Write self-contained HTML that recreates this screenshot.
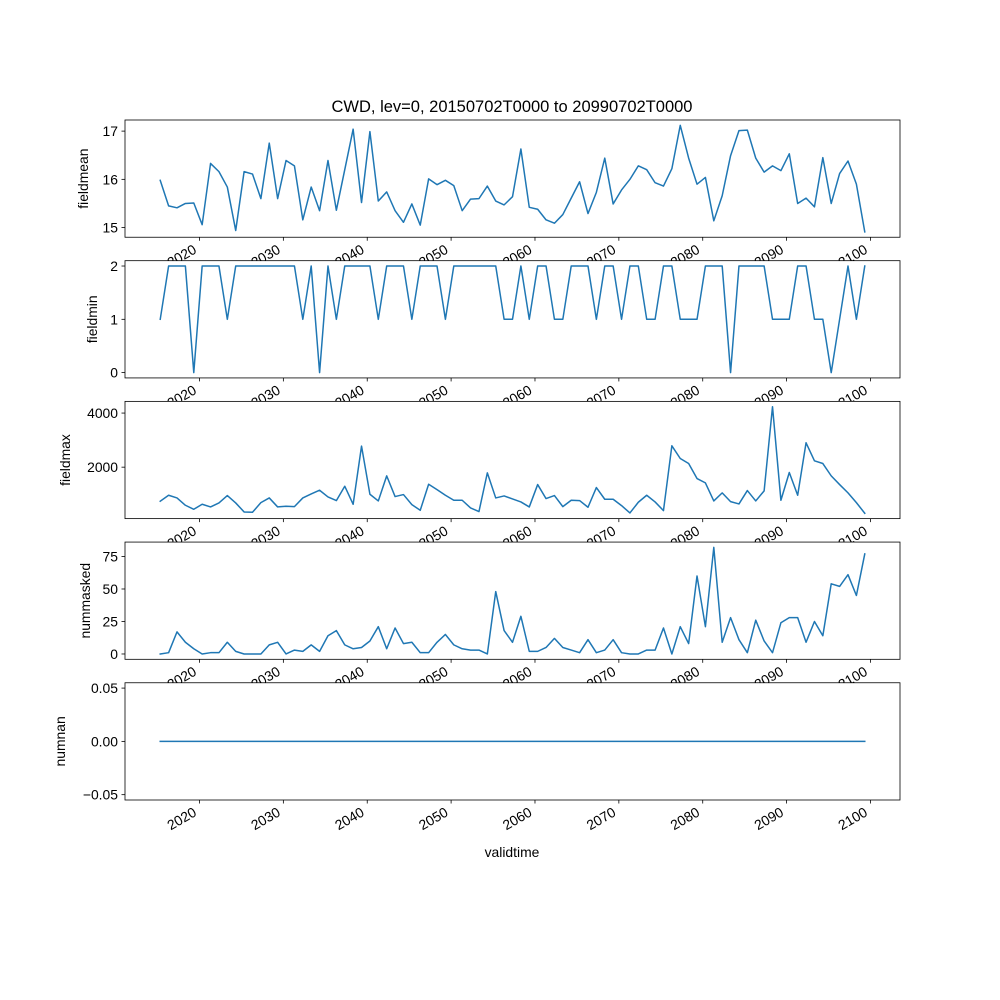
<!DOCTYPE html>
<html><head><meta charset="utf-8"><style>
html,body{margin:0;padding:0;background:#fff}
svg{display:block;font-family:"Liberation Sans","DejaVu Sans",sans-serif}
</style></head><body>
<svg id="fig" width="1000" height="1000" viewBox="0 0 1000 1000" xmlns="http://www.w3.org/2000/svg">
<rect width="1000" height="1000" fill="#fff"/>
<text x="512" y="112" text-anchor="middle" font-size="16.5">CWD, lev=0, 20150702T0000 to 20990702T0000</text>
<text x="512" y="857" text-anchor="middle" font-size="13.9">validtime</text>
</svg>
<script>
const startYear = 2015;
const fieldmean = [15.98,15.45,15.41,15.50,15.51,15.06,16.33,16.16,15.84,14.94,16.16,16.11,15.60,16.75,15.60,16.39,16.28,15.16,15.84,15.35,16.39,15.36,16.2,17.04,15.52,16.99,15.55,15.74,15.35,15.11,15.49,15.05,16.01,15.89,15.98,15.87,15.35,15.59,15.60,15.86,15.55,15.47,15.64,16.63,15.42,15.38,15.16,15.09,15.27,15.61,15.95,15.29,15.73,16.44,15.49,15.78,16.0,16.28,16.20,15.93,15.86,16.22,17.12,16.44,15.90,16.04,15.14,15.66,16.49,17.01,17.02,16.44,16.15,16.28,16.18,16.53,15.50,15.61,15.43,16.45,15.50,16.12,16.38,15.90,14.91];
const fieldmin = [1,2,2,2,0,2,2,2,1,2,2,2,2,2,2,2,2,1,2,0,2,1,2,2,2,2,1,2,2,2,1,2,2,2,1,2,2,2,2,2,2,1,1,2,1,2,2,1,1,2,2,2,1,2,2,1,2,2,1,1,2,2,1,1,1,2,2,2,0,2,2,2,2,1,1,1,2,2,1,1,0,1,2,1,2];
const fieldmax = [740,962,863,592,443,629,530,678,950,678,345,332,690,863,530,555,542,863,1011,1147,900,764,1295,629,2777,999,752,1678,913,987,616,406,1370,1172,962,777,777,493,357,1790,863,937,826,715,530,1357,838,950,542,777,764,518,1246,814,814,579,307,703,962,715,394,2790,2320,2135,1580,1419,752,1049,727,641,1135,752,1123,4235,777,1802,962,2901,2234,2135,1678,1357,1049,690,295];
const nummasked = [0,1,17,9,4,0,1,1,9,2,0,0,0,7,9,0,3,2,7,2,14,18,7,4,5,10,21,4,20,8,9,1,1,9,15,7,4,3,3,0,48,18,9,29,2,2,5,12,5,3,1,11,1,3,11,1,0,0,3,3,20,0,21,8,60,21,82,9,28,11,1,26,10,1,24,28,28,9,25,14,54,52,61,45,77];
const numnan = new Array(85).fill(0);
const xTickYears = [2020,2030,2040,2050,2060,2070,2080,2090,2100];
const ticks1 = [15,16,17];
const ticks2 = [0,1,2];
const ticks3 = [2000,4000];
const ticks4 = [0,25,50,75];
const ticks5 = [-0.05,0,0.05];
const labels5 = ["\u22120.05","0.00","0.05"];

const NS="http://www.w3.org/2000/svg";
const svg=document.getElementById('fig');
const L=125,R=900;
const x0=2011.12, x1=x0+92.4;
function xs(yr){return L+(yr-x0)/(x1-x0)*(R-L);}
function mk(tag,attrs,parent){const e=document.createElementNS(NS,tag);for(const k in attrs)e.setAttribute(k,attrs[k]);(parent||svg).appendChild(e);return e;}

const H=117.24, GAP=23.45;
const panels=[
 {name:'fieldmean',data:fieldmean,ticks:ticks1,labels:null,lx:88},
 {name:'fieldmin',data:fieldmin,ticks:ticks2,labels:null,lx:97},
 {name:'fieldmax',data:fieldmax,ticks:ticks3,labels:null,lx:70},
 {name:'nummasked',data:nummasked,ticks:ticks4,labels:null,lx:90},
 {name:'numnan',data:numnan,ticks:ticks5,labels:labels5,lx:65}
];
panels.forEach((p,pi)=>{
  p.top=120+pi*(H+GAP);
  const g=mk('g',{});
  
  
  const bg=mk('rect',{x:L,y:p.top,width:R-L,height:H,fill:'#fff'},g);
  
  
  let mn=Math.min(...p.data),mx=Math.max(...p.data),lo,hi;
  if(mx===mn){lo=mn-0.055;hi=mx+0.055;}else{const m=(mx-mn)*0.05;lo=mn-m;hi=mx+m;}
  const ys=v=>p.top+H-(v-lo)/(hi-lo)*H;
  const pts=p.data.map((v,i)=>xs(startYear+0.32+i).toFixed(2)+','+ys(v).toFixed(2)).join(' ');
  const line=mk('polyline',{points:pts,fill:'none',stroke:'#1f77b4','stroke-width':1.5,'stroke-linejoin':'round','stroke-linecap':'square'},g);
  
  
  const fr=mk('rect',{x:L,y:p.top,width:R-L,height:H,fill:'none',stroke:'#000','stroke-width':0.8},g);
  
  
  p.ticks.forEach((t,k)=>{
    const y=ys(t);
    mk('line',{x1:L-3.5,x2:L,y1:y,y2:y,stroke:'#000','stroke-width':0.8},g);
    const tx=mk('text',{x:L-7,y:y+5,'text-anchor':'end','font-size':13.9},g);
    
    
    tx.textContent=p.labels?p.labels[k]:String(t);
  });
  const bot=p.top+H;
  xTickYears.forEach(yr=>{
    const x=xs(yr);
    mk('line',{x1:x,x2:x,y1:bot,y2:bot+3.5,stroke:'#000','stroke-width':0.8},g);
    const bx=x-2,by=bot+15;
    const tx=mk('text',{x:bx,y:by,'text-anchor':'end','font-size':13.9,transform:'rotate(-30 '+bx+' '+by+')'},g);
    
    
    tx.textContent=String(yr);
  });
  const yl=mk('text',{x:p.lx,y:p.top+H/2,'text-anchor':'middle','font-size':13.9,transform:'rotate(-90 '+p.lx+' '+(p.top+H/2)+')'},g);
  
  
  yl.textContent=p.name;
});
</script>
</body></html>
